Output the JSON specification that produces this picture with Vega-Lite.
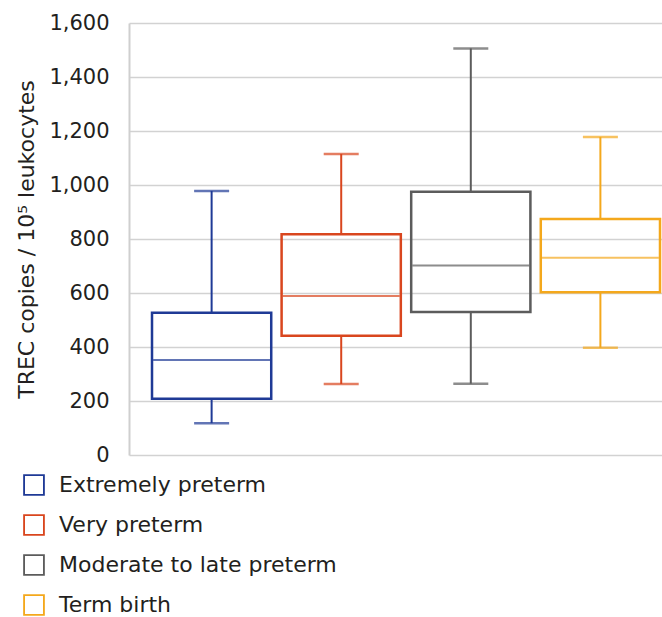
{
  "$schema": "https://vega.github.io/schema/vega-lite/v6.json",
  "autosize": "none",
  "width": 533,
  "height": 432,
  "padding": {"left": 129, "top": 23, "right": 0, "bottom": 162},
  "background": "white",
  "config": {
    "view": {"stroke": null},
    "font": "DejaVu Sans",
    "axis": {"labelFont": "DejaVu Sans", "titleFont": "DejaVu Sans"},
    "legend": {"labelFont": "DejaVu Sans"}
  },
  "data": {
    "values": [
      {"group": "Extremely preterm", "min": 118, "q1": 208, "median": 352, "q3": 527, "max": 978},
      {"group": "Very preterm", "min": 263, "q1": 442, "median": 589, "q3": 818, "max": 1115},
      {"group": "Moderate to late preterm", "min": 264, "q1": 530, "median": 702, "q3": 975, "max": 1506},
      {"group": "Term birth", "min": 397, "q1": 603, "median": 731, "q3": 874, "max": 1178}
    ]
  },
  "encoding": {
    "x": {
      "field": "group",
      "type": "nominal",
      "sort": ["Extremely preterm", "Very preterm", "Moderate to late preterm", "Term birth"],
      "scale": {"paddingInner": 0.08, "paddingOuter": 0.0965, "align": 0.92},
      "axis": null
    }
  },
  "layer": [
    {
      "mark": {"type": "rule", "strokeWidth": 2},
      "encoding": {
        "y": {
          "field": "min",
          "type": "quantitative",
          "scale": {"domain": [0, 1600]},
          "axis": {
            "title": "TREC copies / 10⁵ leukocytes",
            "titleFontSize": 22,
            "titleFontWeight": "normal",
            "titleColor": "#231f20",
            "titlePadding": 10,
            "values": [0, 200, 400, 600, 800, 1000, 1200, 1400, 1600],
            "format": ",d",
            "labelFontSize": 21,
            "labelColor": "#231f20",
            "labelPadding": 20,
            "ticks": false,
            "grid": true,
            "gridColor": "#d2d2d2",
            "gridWidth": 1.5,
            "domain": true,
            "domainColor": "#cfcfcf",
            "domainWidth": 2
          }
        },
        "y2": {"field": "q1"},
        "stroke": {
          "field": "group",
          "type": "nominal",
          "scale": {
            "domain": ["Extremely preterm", "Very preterm", "Moderate to late preterm", "Term birth"],
            "range": ["#1f3a96", "#d9461e", "#5c5c5c", "#f4a81c"]
          },
          "legend": {
            "title": null,
            "orient": "none",
            "legendX": -106,
            "legendY": 451,
            "direction": "vertical",
            "symbolType": "M-1,-1H1V1H-1Z M-0.83,-0.83V0.83H0.83V-0.83Z",
            "symbolSize": 470,
            "symbolStrokeWidth": 0,
            "labelFontSize": 22,
            "labelColor": "#231f20",
            "labelOffset": 14,
            "rowPadding": 18,
            "labelLimit": 400
          }
        }
      }
    },
    {
      "mark": {"type": "rule", "strokeWidth": 2},
      "encoding": {
        "y": {"field": "q3", "type": "quantitative"},
        "y2": {"field": "max"},
        "stroke": {"field": "group", "type": "nominal"}
      }
    },
    {
      "mark": {"type": "tick", "size": 35, "thickness": 2.5},
      "encoding": {
        "y": {"field": "min", "type": "quantitative"},
        "fill": {
          "field": "group",
          "type": "nominal",
          "scale": {
            "domain": ["Extremely preterm", "Very preterm", "Moderate to late preterm", "Term birth"],
            "range": ["#1f3a96", "#d9461e", "#5c5c5c", "#f4a81c"]
          },
          "legend": null
        }
      }
    },
    {
      "mark": {"type": "tick", "size": 35, "thickness": 2.5},
      "encoding": {
        "y": {"field": "max", "type": "quantitative"},
        "fill": {"field": "group", "type": "nominal", "legend": null}
      }
    },
    {
      "mark": {"type": "bar", "filled": false, "strokeWidth": 2.5, "fill": "transparent"},
      "encoding": {
        "y": {"field": "q1", "type": "quantitative"},
        "y2": {"field": "q3"},
        "stroke": {"field": "group", "type": "nominal"}
      }
    },
    {
      "mark": {"type": "tick", "size": 117, "thickness": 2},
      "encoding": {
        "y": {"field": "median", "type": "quantitative"},
        "fill": {"field": "group", "type": "nominal", "legend": null}
      }
    }
  ]
}
